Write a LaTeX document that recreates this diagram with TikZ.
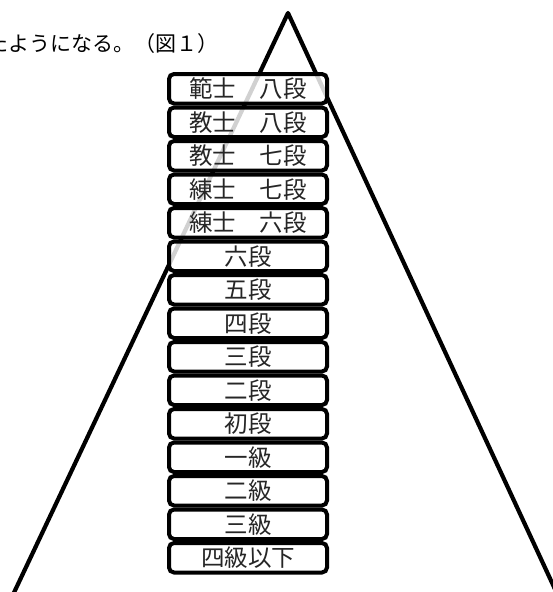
\documentclass[tikz,border=0pt]{standalone}
\usepackage{fontspec}
\newfontfamily\jp{Noto Sans CJK JP}
\begin{document}
\begin{tikzpicture}[x=1pt,y=-1pt,
  rankbox/.style={draw=black, line width=4pt, rounded corners=5pt,
    fill=white, fill opacity=0.82, text opacity=1, text=black!85,
    minimum width=158pt, minimum height=29.5pt, inner sep=0pt,
    font=\jp\fontsize{23.5}{23.5}\selectfont},
  tri/.style={line width=4.2pt, line join=round, line cap=butt}]
\useasboundingbox (0,0) rectangle (553,592);
\begin{scope}
\clip (0,0) rectangle (553,592);
\coordinate (apex) at (288,13);
\coordinate (bl) at (10.5,600);
\coordinate (br) at (560,600);
\draw[tri] (bl) -- (apex) -- (br);
\node[anchor=east, inner sep=0pt, font=\jp\fontsize{21}{21}\selectfont] (caption) at (219,44) {たようになる。（図１）};
\end{scope}
\foreach \t [count=\i] in {範士　八段, 教士　八段, 教士　七段, 練士　七段, 練士　六段, 六段, 五段, 四段, 三段, 二段, 初段, 一級, 二級, 三級, 四級以下}{
  \node[rankbox] (r\i) at (248, {72+33.5*(\i-1)+16.75}) {\t};
}
\end{tikzpicture}
\end{document}
